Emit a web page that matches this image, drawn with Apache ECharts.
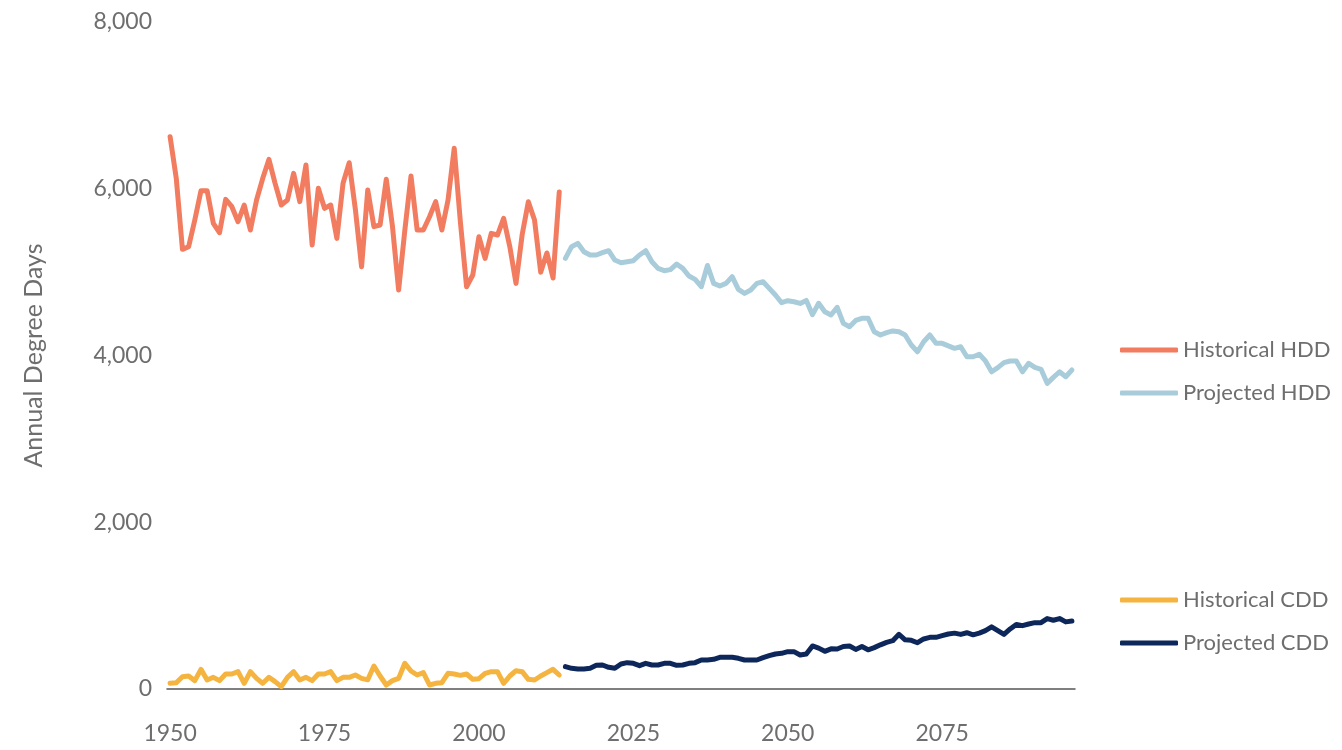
<!DOCTYPE html>
<html lang="en">
<head>
    <meta charset="UTF-8">
    <title>Annual Degree Days</title>
    <script src="https://cdn.jsdelivr.net/npm/echarts@6/dist/echarts.min.js"></script>
    <style>
        body { margin: 0; background: #fff; }
    </style>
</head>
<body>
<div id="chart" style="width:1342px;height:750px;"></div>
<script>
    // historical years 1950-2013, projections 2014-2096
    histStart = 1950;
    projStart = 2014;
    xTicks = [1950, 1975, 2000, 2025, 2050, 2075];
    yTicks = [0, 2000, 4000, 6000, 8000];

    histHDD = [6624, 6125, 5273, 5305, 5625, 5976, 5976, 5585, 5473, 5873,
        5785, 5605, 5805, 5505, 5865, 6125, 6352, 6065, 5805, 5865,
        6185, 5845, 6285, 5325, 6005, 5765, 5805, 5405, 6065, 6312,
        5750, 5065, 5985, 5545, 5565, 6113, 5550, 4785, 5500, 6152,
        5505, 5505, 5665, 5845, 5505, 5865, 6485, 5600, 4825, 4965,
        5425, 5165, 5465, 5445, 5645, 5305, 4865, 5450, 5845, 5625,
        5000, 5230, 4930, 5960];

    projHDD = [5165, 5305, 5345, 5245, 5205, 5205, 5233, 5257, 5145, 5113,
        5125, 5137, 5205, 5257, 5125, 5045, 5017, 5030, 5097, 5045,
        4953, 4913, 4825, 5080, 4865, 4833, 4865, 4945, 4793, 4745,
        4785, 4865, 4885, 4805, 4725, 4633, 4657, 4645, 4625, 4660,
        4490, 4626, 4525, 4486, 4578, 4386, 4345, 4420, 4446, 4446,
        4285, 4246, 4275, 4295, 4285, 4246, 4126, 4045, 4165, 4246,
        4146, 4146, 4115, 4086, 4105, 3985, 3985, 4015, 3935, 3805,
        3855, 3915, 3934, 3934, 3805, 3906, 3858, 3834, 3666, 3738,
        3805, 3746, 3826];

    histCDD = [68, 75, 148, 156, 100, 236, 108, 140, 100, 180,
        180, 208, 68, 208, 128, 68, 140, 88, 28, 140,
        208, 108, 140, 100, 180, 180, 208, 100, 140, 140,
        168, 128, 110, 276, 156, 48, 100, 128, 308, 216,
        168, 196, 48, 68, 76, 188, 180, 164, 180, 116,
        124, 188, 208, 208, 68, 156, 220, 208, 116, 108,
        156, 196, 236, 168];

    projCDD = [268, 248, 240, 240, 248, 284, 288, 260, 248, 300,
        316, 308, 280, 308, 288, 288, 308, 308, 284, 288,
        308, 316, 348, 348, 356, 380, 380, 380, 368, 348,
        348, 348, 376, 400, 420, 428, 448, 448, 408, 420,
        516, 490, 452, 482, 480, 510, 516, 475, 510, 470,
        496, 530, 560, 580, 656, 590, 584, 555, 600, 620,
        620, 640, 660, 670, 655, 675, 650, 670, 700, 745,
        700, 655, 720, 775, 760, 780, 796, 796, 845, 825,
        845, 805, 815];

    function pairs(start, vals) {
        var out = [];
        for (var i = 0; i < vals.length; i++) {
            out.push([start + i, vals[i]]);
        }
        return out;
    }

    var grey = '#6e6e6e';
    var font = 'Lato';

    function legendBox(top, names) {
        return {
            orient: 'vertical',
            left: 1120,
            top: top,
            padding: 0,
            itemWidth: 58,
            itemHeight: 5,
            itemGap: 21,
            icon: 'roundRect',
            textStyle: { fontSize: 22, color: grey, fontFamily: font },
            data: names
        };
    }

    var ct = echarts.init(document.getElementById('chart'));
    var option = {
        animation: false,
        grid: { left: 167, right: 267, top: 22, bottom: 61 },
        legend: [
            legendBox(339, ['Historical HDD', 'Projected HDD']),
            legendBox(589, ['Historical CDD', 'Projected CDD'])
        ],
        xAxis: {
            type: 'value',
            min: 1949.5,
            max: 2096.5,
            axisLine: { show: true, lineStyle: { color: '#555', width: 1.5 } },
            axisTick: { show: false },
            splitLine: { show: false },
            axisLabel: {
                customValues: xTicks,
                margin: 33,
                fontSize: 23,
                color: grey,
                fontFamily: font,
                formatter: function (v) {
                    return String(v);
                }
            }
        },
        yAxis: {
            type: 'value',
            min: yTicks[0],
            max: yTicks[yTicks.length - 1],
            interval: 2000,
            name: 'Annual Degree Days',
            nameLocation: 'middle',
            nameGap: 121,
            nameTextStyle: { fontSize: 25, color: grey, fontFamily: font },
            axisLine: { show: false },
            axisTick: { show: false },
            splitLine: { show: false },
            axisLabel: {
                margin: 15,
                fontSize: 23,
                color: grey,
                fontFamily: font,
                formatter: function (v) {
                    return v.toLocaleString('en-US');
                }
            }
        },
        series: [
            {
                name: 'Historical HDD', type: 'line', showSymbol: false,
                data: pairs(histStart, histHDD), color: '#F27C5F',
                lineStyle: { width: 5, cap: 'round', join: 'round' }
            },
            {
                name: 'Projected HDD', type: 'line', showSymbol: false,
                data: pairs(projStart, projHDD), color: '#A9CCDB',
                lineStyle: { width: 5, cap: 'round', join: 'round' }
            },
            {
                name: 'Historical CDD', type: 'line', showSymbol: false,
                data: pairs(histStart, histCDD), color: '#F4B43F',
                lineStyle: { width: 5, cap: 'round', join: 'round' }
            },
            {
                name: 'Projected CDD', type: 'line', showSymbol: false,
                data: pairs(projStart, projCDD), color: '#0D275A',
                lineStyle: { width: 5, cap: 'round', join: 'round' }
            }
        ]
    };
    ct.setOption(option);
</script>
</body>
</html>
